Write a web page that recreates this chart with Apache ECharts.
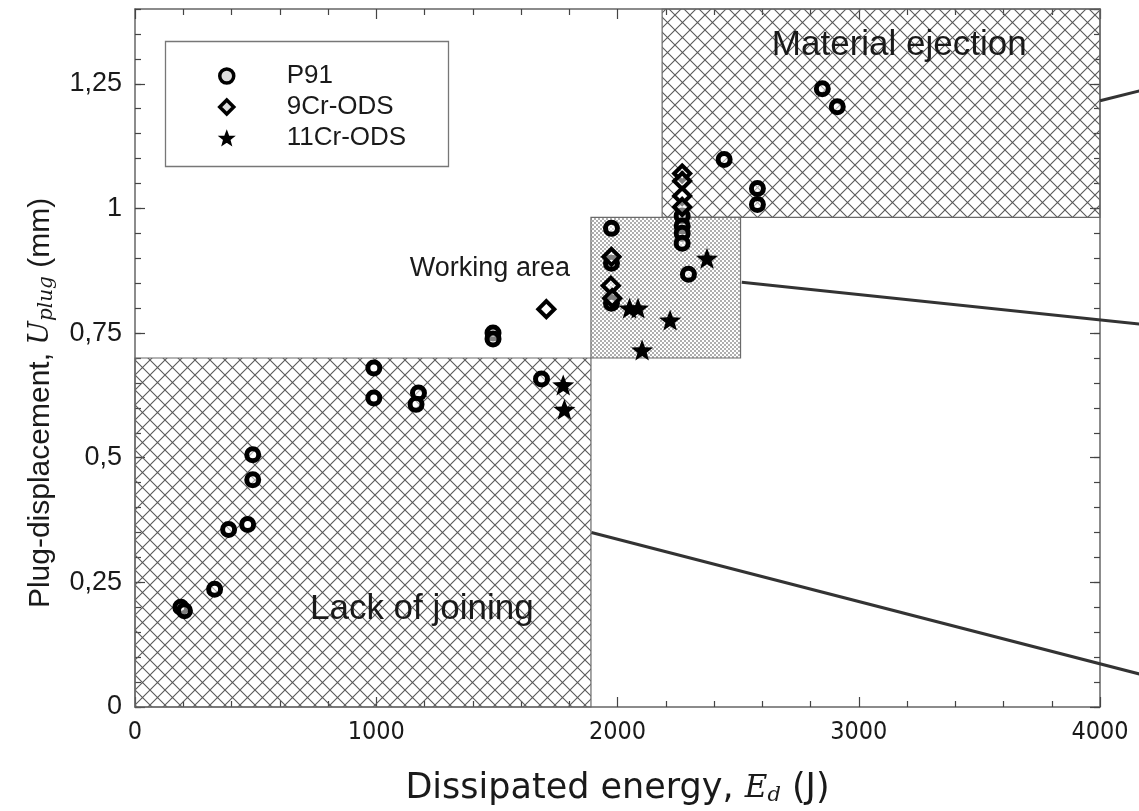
<!DOCTYPE html>
<html><head><meta charset="utf-8">
<script src="https://cdn.jsdelivr.net/npm/echarts@6/dist/echarts.min.js"></script>
<style>html,body{margin:0;padding:0;background:#fff}#c{width:1139px;height:811px}</style>
</head><body><div id="c"></div>
<script>
// ---- data ----
const seriesNames = ['P91', '9Cr-ODS', '11Cr-ODS'];
const p91 = [
  [190, 0.200], [205, 0.193], [330, 0.236], [388, 0.356], [467, 0.366], [488, 0.506], [488, 0.456],
  [990, 0.680], [990, 0.620], [1175, 0.630], [1165, 0.607], [1484, 0.750], [1484, 0.738], [1685, 0.658],
  [1975, 0.960], [1975, 0.890], [1975, 0.810],
  [2268, 0.985], [2268, 0.965], [2268, 0.950], [2268, 0.930], [2294, 0.868],
  [2442, 1.098], [2580, 1.040], [2580, 1.008], [2849, 1.240], [2911, 1.204]
];
const cr9 = [
  [1705, 0.798], [1975, 0.903], [1972, 0.845], [1978, 0.820],
  [2268, 1.070], [2268, 1.055], [2268, 1.025], [2268, 1.003]
];
const cr11 = [
  [1775, 0.646], [1780, 0.597], [2050, 0.800], [2085, 0.800], [2102, 0.716], [2218, 0.776], [2371, 0.900]
];
const xTickLabels = ['0', '1000', '2000', '3000', '4000'];
const yTickLabels = ['0', '0,25', '0,5', '0,75', '1', '1,25'];
const lackOfJoining = [[0, 0], [1890, 0.70]];
const workingArea = [[1890, 0.70], [2510, 0.982]];
const materialEjection = [[2185, 0.982], [4000, 1.40]];
const regionLabels = [
  [1189, 0.196, 'Lack of joining'],
  [1471, 0.880, 'Working area'],
  [3168, 1.328, 'Material ejection']
];
const leaderLines = [
  [[4000, 1.216], [4165, 1.236]],
  [[2515, 0.852], [4165, 0.768]],
  [[1892, 0.350], [4165, 0.066]]
];

// ---- styles ----
const regionLabelFont = { 'Lack of joining': 35, 'Working area': 27, 'Material ejection': 35 };
function hatch(d, color) {
  const c = document.createElement('canvas'); c.width = d; c.height = d;
  const g = c.getContext('2d'); g.strokeStyle = color; g.lineWidth = 1.1;
  g.beginPath();
  for (let k = -1; k <= 1; k++) {
    g.moveTo(k * d - 2, -2); g.lineTo(k * d + d + 2, d + 2);
    g.moveTo(k * d + d + 2, -2); g.lineTo(k * d - 2, d + 2);
  }
  g.stroke();
  return c;
}
function dots() {
  const c = document.createElement('canvas'); c.width = 4; c.height = 4;
  const g = c.getContext('2d'); g.fillStyle = '#fff'; g.fillRect(0, 0, 4, 4);
  g.fillStyle = '#444';
  g.beginPath(); g.arc(1, 1, 0.8, 0, Math.PI * 2); g.arc(3, 3, 0.8, 0, Math.PI * 2); g.fill();
  return c;
}
const hatchPat = { image: hatch(15, '#5a5a5a'), repeat: 'repeat' };
const dotPat = { image: dots(), repeat: 'repeat' };

const star = 'path://M50 0 L62.34 33.01 L97.55 34.55 L69.97 56.49 L79.39 90.45 L50 71 L20.61 90.45 L30.03 56.49 L2.45 34.55 L37.66 33.01 Z';
const cond = "'DejaVu Sans Condensed', 'Liberation Sans', sans-serif";
const wide = "'DejaVu Sans', sans-serif";
const arial = "'Liberation Sans', Arial, sans-serif";
const serif = "'DejaVu Serif', serif";
const txt = '#1a1a1a';
const lineCol = '#666';
const tickCol = '#444';

function area(r, pat) {
  return [
    { xAxis: r[0][0], yAxis: r[0][1], itemStyle: { color: pat, borderColor: '#6a6a6a', borderWidth: 1.2 } },
    { xAxis: r[1][0], yAxis: r[1][1] }
  ];
}

const chart = echarts.init(document.getElementById('c'), null, { renderer: 'canvas' });
const baseX = {
  type: 'value', min: 0, max: 4000, interval: 1000,
  axisLine: { show: true, onZero: false, lineStyle: { color: lineCol, width: 1.5 } },
  axisTick: { show: true, inside: true, length: 10, lineStyle: { color: tickCol, width: 1.2 } },
  minorTick: { show: true, splitNumber: 5, length: 6, lineStyle: { color: tickCol, width: 1.2 } },
  splitLine: { show: false }
};
const yMajor = {
  type: 'value', min: 0, max: 1.4, interval: 0.25,
  axisLine: { show: true, onZero: false, lineStyle: { color: lineCol, width: 1.5 } },
  axisTick: { show: true, inside: true, length: 10, lineStyle: { color: tickCol, width: 1.2 } },
  splitLine: { show: false }
};
const yMinor = {
  type: 'value', min: 0, max: 1.4, interval: 0.05, offset: 0,
  axisLine: { show: false, onZero: false },
  axisLabel: { show: false },
  axisTick: { show: true, inside: true, length: 6, lineStyle: { color: tickCol, width: 1.2 } },
  splitLine: { show: false }
};

chart.setOption({
  animation: false,
  backgroundColor: '#fff',
  grid: { left: 135, right: 39, top: 9, bottom: 103, containLabel: false },
  xAxis: [
    Object.assign({}, baseX, {
      position: 'bottom',
      axisLabel: {
        show: true, margin: 13, color: txt, fontFamily: cond, fontSize: 25,
        formatter: v => xTickLabels[Math.round(v / 1000)] ?? ''
      },
      name: '{a|Dissipated energy, }{m|E}{s|d}{a| (J)}',
      nameLocation: 'middle', nameGap: 64,
      nameTextStyle: {
        rich: {
          a: { fontFamily: wide, fontSize: 35, color: txt },
          m: { fontFamily: serif, fontStyle: 'italic', fontSize: 31, color: txt },
          s: { fontFamily: serif, fontStyle: 'italic', fontSize: 21, color: txt, padding: [14, 0, 0, 0] }
        }
      }
    }),
    Object.assign({}, baseX, { position: 'top', axisLabel: { show: false } })
  ],
  yAxis: [
    Object.assign({}, yMajor, {
      position: 'left',
      axisLabel: {
        show: true, margin: 13, color: txt, fontFamily: arial, fontSize: 27, showMaxLabel: false,
        formatter: v => { const i = Math.round(v / 0.25); return Math.abs(v - i * 0.25) < 1e-6 ? (yTickLabels[i] ?? '') : ''; }
      },
      name: '{a|Plug-displacement, }{m|U}{s|plug}{a| (mm)}',
      nameLocation: 'middle', nameGap: 78, nameRotate: 90,
      nameTextStyle: {
        padding: [0, 90, 0, 0],
        rich: {
          a: { fontFamily: arial, fontSize: 30, color: txt },
          m: { fontFamily: serif, fontStyle: 'italic', fontSize: 28, color: txt },
          s: { fontFamily: serif, fontStyle: 'italic', fontSize: 20, color: txt, padding: [12, 0, 0, 0] }
        }
      }
    }),
    Object.assign({}, yMajor, { position: 'right', axisLabel: { show: false } }),
    Object.assign({}, yMinor, { position: 'left' }),
    Object.assign({}, yMinor, { position: 'right' })
  ],
  legend: {
    orient: 'vertical', left: 218, top: 63, padding: 0, itemGap: 5,
    itemWidth: 14, itemHeight: 14,
    textStyle: { fontFamily: arial, fontSize: 26, color: txt, padding: [0, 0, 0, 48] },
    data: [
      { name: seriesNames[0], itemStyle: { borderWidth: 3.5, borderColor: '#000', color: '#ddd' } },
      { name: seriesNames[1], itemStyle: { borderWidth: 3.5, borderColor: '#000', color: '#ddd' } },
      { name: seriesNames[2], itemStyle: { borderWidth: 1.5, borderColor: '#000', color: '#000' } }
    ]
  },
  series: [
    {
      type: 'scatter', name: 'regions', data: [], z: 1, silent: true,
      markArea: {
        silent: true,
        label: { show: false },
        data: [area(lackOfJoining, hatchPat), area(materialEjection, hatchPat), area(workingArea, dotPat)]
      }
    },
    {
      type: 'scatter', name: 'labels', symbolSize: 0, silent: true, z: 3,
      itemStyle: { opacity: 1 },
      data: regionLabels.map(r => ({ value: r, label: { fontSize: regionLabelFont[r[2]] } })),
      label: {
        show: true, position: 'inside', formatter: p => p.value[2],
        fontFamily: arial, color: txt, opacity: 1
      }
    },
    {
      type: 'scatter', name: seriesNames[0], data: p91, symbol: 'circle', symbolSize: 12, z: 5,
      itemStyle: { color: 'rgba(255,255,255,0.5)', borderColor: '#000', borderWidth: 5, opacity: 1 }
    },
    {
      type: 'scatter', name: seriesNames[1], data: cr9, symbol: 'diamond', symbolSize: 16, z: 5,
      itemStyle: { color: 'rgba(255,255,255,0.5)', borderColor: '#000', borderWidth: 4, opacity: 1 }
    },
    {
      type: 'scatter', name: seriesNames[2], data: cr11, symbol: star, symbolSize: 22, symbolKeepAspect: true, z: 6,
      itemStyle: { color: '#000', opacity: 1 }
    }
  ]
});

// legend frame and leader lines (anchored through the chart's own coordinate conversion)
const toPx = p => chart.convertToPixel({ seriesIndex: 2 }, p);
const lines = leaderLines.map(l => {
  const a = toPx(l[0]), b = toPx(l[1]);
  return { type: 'line', shape: { x1: a[0], y1: a[1], x2: b[0], y2: b[1] }, style: { stroke: '#333', lineWidth: 3 }, z: 4, silent: true };
});
chart.setOption({
  graphic: { elements: [
    { type: 'rect', shape: { x: 165.5, y: 41.5, width: 283, height: 125 }, style: { fill: 'none', stroke: '#777', lineWidth: 1.3 }, z: 10, silent: true },
    ...lines
  ] }
});
</script>
</body></html>
